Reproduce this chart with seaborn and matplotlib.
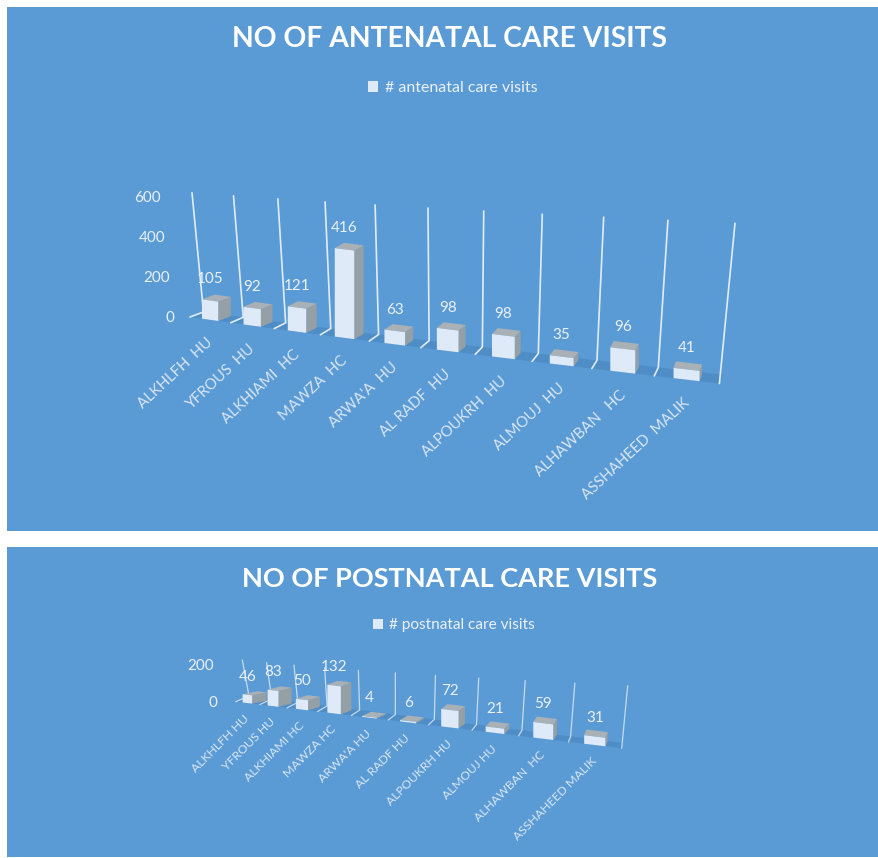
import matplotlib
matplotlib.use("Agg")
import matplotlib.pyplot as plt
from matplotlib.patches import Polygon
from matplotlib.transforms import Affine2D
import seaborn as sns

W, H = 879, 858

# ---- data ----
antenatal_sites = ["ALKHLFH  HU", "YFROUS  HU", "ALKHIAMI  HC", "MAWZA  HC", "ARWA'A  HU",
                   "AL RADF  HU", "ALPOUKRH  HU", "ALMOUJ  HU", "ALHAWBAN   HC", "ASSHAHEED  MALIK"]
antenatal_visits = [105, 92, 121, 416, 63, 98, 98, 35, 96, 41]
antenatal_ticks = [0, 200, 400, 600]

postnatal_sites = ["ALKHLFH HU", "YFROUS HU", "ALKHIAMI HC", "MAWZA HC", "ARWA'A HU",
                   "AL RADF HU", "ALPOUKRH HU", "ALMOUJ HU", "ALHAWBAN  HC", "ASSHAHEED MALIK"]
postnatal_visits = [46, 83, 50, 132, 4, 6, 72, 21, 59, 31]
postnatal_ticks = [0, 200]

# ---- colours ----
PANEL = "#5B9BD5"
FRONT = "#DEEAF7"
SIDE = "#949FA6"
TOP = "#A9B1B6"
FLOOR = "#4F8DC6"
GRID = "#E9F1F9"
TEXT = "#EAF1F9"
CAT_TEXT = "#D9E6F4"

sns.set_theme(style="white")
plt.rcParams["font.family"] = ["Lato", "DejaVu Sans"]

# Pixel frame (y downward) used to project the flat bars into the tilted view.
pix = Affine2D().scale(1, -1).translate(0, H)


class View:
    """Perspective of one panel, as polynomials of the category position."""
    def __init__(self, **kw):
        self.__dict__.update(kw)

    def fx(self, i):
        return self.fx0 + self.fx1 * i + self.fx2 * i * i

    def fy(self, i):
        return self.fy0 + self.fy1 * i + self.fy2 * i * i

    def topx(self, i):
        return self.tx0 + self.tx1 * i + self.tx2 * i * i

    def topy(self, i):
        return self.ty0 + self.ty1 * i

    def back(self, i):
        return (self.fx(i) + self.bdx0 + self.bdx1 * i,
                self.fy(i) - self.bdy0 - self.bdy1 * i)


def draw_panel(box, sites, visits, ticks, title, series, view):
    l, t, r, b = box
    ax = fig.add_axes([l / W, (H - b) / H, (r - l) / W, (b - t) / H], facecolor=PANEL)
    sns.barplot(x=sites, y=visits, ax=ax, color=FRONT, saturation=1, width=0.4,
                label=series, zorder=5, linewidth=0)
    sns.despine(ax=ax, left=True, bottom=True)
    ax.tick_params(length=0, labelbottom=False, labelleft=False)
    ax.set_xlabel("")
    ax.set_ylabel("")
    n = len(sites)

    # floor
    pos = range(n + 1)
    floor = [(view.fx(i), view.fy(i)) for i in pos] + [view.back(i) for i in reversed(pos)]
    ax.add_patch(Polygon(floor, closed=True, fc=FLOOR, ec="none", transform=pix, zorder=1, clip_on=False))

    # wall lines with their floor ticks
    for i in pos:
        bx, by = view.back(i)
        if i == n:
            bx, by = view.fx(i), view.fy(i)
        xs = [view.topx(i), bx]
        ys = [view.topy(i), by]
        if i < n:
            xs.append(view.fx(i))
            ys.append(view.fy(i))
        ax.plot(xs, ys, color=GRID, lw=view.lw, alpha=view.alpha, transform=pix, zorder=2,
                clip_on=False, solid_joinstyle="miter")

    # bars
    for i, (bar, v) in enumerate(zip(ax.patches, visits)):
        x0, x1 = view.fx(i + 0.3), view.fx(i + 0.7)
        y0, y1 = view.fy(i + 0.3), view.fy(i + 0.7)
        k = view.k0 + view.k1 * i + view.k2 * v
        w0 = bar.get_x()
        sx = (x1 - x0) / bar.get_width()
        sy = (y1 - y0) / bar.get_width()
        bar.set_transform(Affine2D.from_values(sx, sy, 0, -k, x0 - sx * w0, y0 - sy * w0) + pix)
        bar.set_clip_on(False)
        dx = view.dx0 + view.dx1 * i
        dy = view.dy0 + view.dy1 * i
        h = k * v
        side = [(x1, y1), (x1, y1 - h), (x1 + dx, y1 - h - dy), (x1 + dx, y1 - dy)]
        top = [(x0, y0 - h), (x1, y1 - h), (x1 + dx, y1 - h - dy), (x0 + dx, y0 - h - dy)]
        ax.add_patch(Polygon(side, closed=True, fc=SIDE, ec="none", transform=pix, zorder=4, clip_on=False))
        ax.add_patch(Polygon(top, closed=True, fc=TOP, ec="none", transform=pix, zorder=4, clip_on=False))
        ax.text((x0 + x1) / 2, y0 - h - view.lab, str(v), color=TEXT, fontsize=view.fs, ha="center",
                va="center", transform=pix, zorder=6, clip_on=False)
        ax.text(view.fx(i + 0.5) + view.cdx, view.fy(i + 0.5) + view.cdy, sites[i], color=CAT_TEXT,
                fontsize=view.cfs, rotation=view.rot, rotation_mode="anchor", ha="right", va="center",
                transform=pix, zorder=6, clip_on=False)

    # value axis labels
    for v in ticks:
        ax.text(view.vx0 + view.vx1 * v, view.vy0 + view.vy1 * v, str(v), color=TEXT, fontsize=view.fs,
                ha="right", va="center", transform=pix, clip_on=False)

    ax.set_title(title, x=(449.5 - l) / (r - l), y=1 - (view.ty - t) / (b - t), va="center", color="white",
                 fontsize=view.tfs, fontweight="bold", pad=0)
    leg = ax.legend(loc="center left", bbox_to_anchor=view.leg, bbox_transform=pix, frameon=False,
                    handlelength=0.62, handleheight=0.62, handletextpad=0.42, borderpad=0, borderaxespad=0,
                    fontsize=view.lfs)
    for txt in leg.get_texts():
        txt.set_color(TEXT)
    return ax


fig = plt.figure(figsize=(W / 100, H / 100), dpi=100, facecolor="white")

top_view = View(fx0=190, fx1=39.4, fx2=1.354, fy0=317, fy1=5.6, fy2=0.105,
                tx0=192, tx1=40.1, tx2=1.42, ty0=192.7, ty1=3.06,
                bdx0=13.5, bdx1=-1.05, bdy0=5, bdy1=0.4,
                k0=0.182, k1=0.0075, k2=0.00002, dx0=12.7, dx1=-1.15, dy0=4.7, dy1=0.2,
                lab=20, fs=11, cfs=10.7, rot=43, cdx=1, cdy=21,
                vx0=174, vx1=-13 / 600, vy0=318.5, vy1=-121 / 600,
                ty=39, tfs=20.3, lfs=11.5, leg=(368, 88),
                lw=1.2, alpha=0.95)
bottom_view = View(fx0=235.7, fx1=22.44, fx2=1.616, fy0=701.7, fy1=2.66, fy2=0.2,
                   tx0=242.3, tx1=22.66, tx2=1.588, ty0=660, ty1=2.57,
                   bdx0=13.3, bdx1=-1.25, bdy0=5.5, bdy1=0,
                   k0=0.18, k1=0.0105, k2=0.0, dx0=14.5, dx1=-1.35, dy0=3, dy1=0.3,
                   lab=17.5, fs=11, cfs=8.8, rot=45, cdx=0, cdy=14,
                   vx0=217, vx1=-3 / 200, vy0=703, vy1=-37 / 200,
                   ty=579, tfs=19.5, lfs=11.1, leg=(373, 625),
                   lw=0.9, alpha=0.75)

draw_panel((7, 7, 879, 531), antenatal_sites, antenatal_visits, antenatal_ticks,
           "NO OF ANTENATAL CARE VISITS", "# antenatal care visits", top_view)
draw_panel((7, 547, 879, 857), postnatal_sites, postnatal_visits, postnatal_ticks,
           "NO OF POSTNATAL CARE VISITS", "# postnatal care visits", bottom_view)

fig.savefig("out.png", dpi=100, facecolor="white")
